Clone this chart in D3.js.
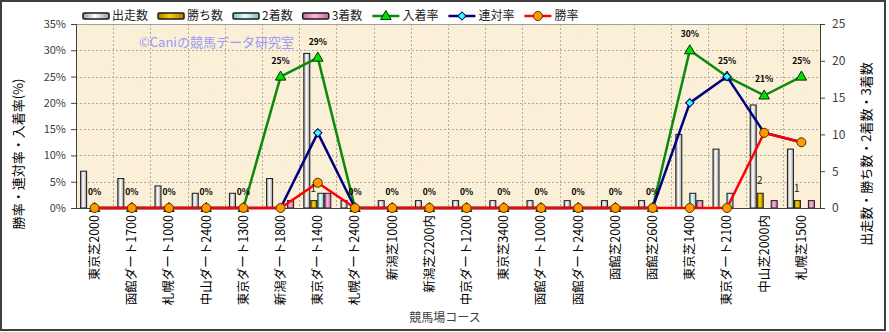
<!DOCTYPE html>
<html><head><meta charset="utf-8">
<script src="https://cdn.jsdelivr.net/npm/d3@7"></script>
<style>
body{margin:0;background:#fff}
text{font-family:"Noto Sans CJK JP","Liberation Sans",sans-serif}
</style>
</head><body>
<svg id="chart" width="889" height="332"></svg>
<script>
// Course list (x axis)
const courses = ["東京芝2000","函館ダート1700","札幌ダート1000","中山ダート2400","東京ダート1300",
  "新潟ダート1800","東京ダート1400","札幌ダート2400","新潟芝1000","新潟芝2200内",
  "中京ダート1200","東京芝3400","函館ダート1000","函館ダート2400","函館芝2000",
  "函館芝2600","東京芝1400","東京ダート2100","中山芝2000内","札幌芝1500"];

// Counts (right axis)
const starts  = [5,4,3,2,2,4,21,1,1,1,1,1,1,1,1,1,10,8,14,8];
const wins    = [0,0,0,0,0,0,1,0,0,0,0,0,0,0,0,0,0,0,2,1];
const seconds = [0,0,0,0,0,0,2,0,0,0,0,0,0,0,0,0,2,2,0,0];
const thirds  = [0,0,0,0,0,1,2,0,0,0,0,0,0,0,0,0,1,0,1,1];

// Rates in % (left axis)
const placeRate    = [0,0,0,0,0,25,28.6,0,0,0,0,0,0,0,0,0,30,25,21.4,25];
const quinellaRate = [0,0,0,0,0,0,14.3,0,0,0,0,0,0,0,0,0,20,25,14.3,12.5];
const winRate      = [0,0,0,0,0,0,4.8,0,0,0,0,0,0,0,0,0,0,0,14.3,12.5];

const leftTicks  = [0,5,10,15,20,25,30,35];
const rightTicks = [0,5,10,15,20,25];

const barSeries = [
  {name:"出走数", values:starts,  edge:"#9a9a9a", mid:"#ffffff"},
  {name:"勝ち数", values:wins,    edge:"#a87800", mid:"#ffd200"},
  {name:"2着数",  values:seconds, edge:"#7fbcbc", mid:"#e4ffff"},
  {name:"3着数",  values:thirds,  edge:"#c86a9a", mid:"#ffb4da"}
];
const lineSeries = [
  {name:"入着率", values:placeRate,    color:"#0a8a0a", marker:"triangle", fill:"#00e000", stroke:"#003300"},
  {name:"連対率", values:quinellaRate, color:"#000080", marker:"diamond",  fill:"#33ffff", stroke:"#000060"},
  {name:"勝率",   values:winRate,      color:"#ff0000", marker:"circle",   fill:"#ff9900", stroke:"#5a3000"}
];

const svg = d3.select("#chart");
const P = {l:76, r:820, t:24, b:208};

const x = d3.scaleBand().domain(courses).range([P.l, P.r]);
const xb = d3.scaleBand().domain(barSeries.map(s=>s.name)).range([0, x.bandwidth()]).paddingOuter(0.66);
const yL = d3.scaleLinear().domain([0,35]).range([P.b, P.t]);
const yR = d3.scaleLinear().domain([0,25]).range([P.b, P.t]);
const cx = c => x(c) + x.bandwidth()/2;

// gradients for bars
const defs = svg.append("defs");
barSeries.forEach((s,i)=>{
  const g = defs.append("linearGradient").attr("id","g"+i).attr("x1","0").attr("x2","1").attr("y1","0").attr("y2","0");
  g.append("stop").attr("offset","0").attr("stop-color",s.edge);
  g.append("stop").attr("offset","0.45").attr("stop-color",s.mid);
  g.append("stop").attr("offset","1").attr("stop-color",s.edge);
});
const tex = defs.append("filter").attr("id","paper").attr("x","0").attr("y","0").attr("width","1").attr("height","1");
tex.append("feTurbulence").attr("type","fractalNoise").attr("baseFrequency","0.025").attr("numOctaves","3").attr("seed","4");
tex.append("feColorMatrix").attr("values","0 0 0 0 0.93  0 0 0 0 0.85  0 0 0 0 0.70  0 0 0 0.35 0");
tex.append("feComposite").attr("in2","SourceGraphic").attr("operator","in");

// chart frame
svg.append("rect").attr("x",1).attr("y",1).attr("width",884).attr("height",329)
  .attr("fill","#fff").attr("stroke","#404040").attr("stroke-width",2);

// plot background
svg.append("rect").attr("x",P.l).attr("y",P.t).attr("width",P.r-P.l).attr("height",P.b-P.t).attr("fill","#fbefd6");
svg.append("rect").attr("x",P.l).attr("y",P.t).attr("width",P.r-P.l).attr("height",P.b-P.t).attr("fill","#fbefd6").attr("filter","url(#paper)");

// grid
const grid = svg.append("g").attr("stroke","#b0aaa0").attr("stroke-dasharray","2,2").attr("stroke-width",1);
leftTicks.filter(t=>t>0 && t<35).forEach(t=>{
  grid.append("line").attr("x1",P.l).attr("x2",P.r).attr("y1",Math.round(yL(t))+0.5).attr("y2",Math.round(yL(t))+0.5);
});
courses.slice(1).forEach(c=>{
  const xx = Math.round(x(c))+0.5;
  grid.append("line").attr("x1",xx).attr("x2",xx).attr("y1",P.t).attr("y2",P.b);
});
svg.append("line").attr("x1",P.l).attr("x2",P.r).attr("y1",P.t+0.5).attr("y2",P.t+0.5).attr("stroke","#a0a0a0");

// watermark
svg.append("text").attr("x",139).attr("y",47).attr("fill","#9a9af5").attr("font-size",13).text("©Caniの競馬データ研究室");

// bars
barSeries.forEach((s,i)=>{
  svg.append("g").selectAll("rect").data(courses.map((c,j)=>({c,v:s.values[j]})).filter(d=>d.v>0))
    .join("rect")
    .attr("x",d=>x(d.c)+xb(s.name))
    .attr("y",d=>yR(d.v))
    .attr("width",xb.bandwidth()-1)
    .attr("height",d=>yR(0)-yR(d.v))
    .attr("fill","url(#g"+i+")")
    .attr("stroke","#1a1a1a").attr("stroke-width",1);
});

// axes
const axL = svg.append("g").attr("transform",`translate(${P.l},0)`)
  .call(d3.axisLeft(yL).tickValues(leftTicks).tickFormat(d=>d+"%").tickSize(5).tickPadding(5));
const axR = svg.append("g").attr("transform",`translate(${P.r},0)`)
  .call(d3.axisRight(yR).tickValues(rightTicks).tickSize(5).tickPadding(7));
[axL,axR].forEach(a=>{
  a.selectAll("path,line").attr("stroke","#404040");
  a.selectAll("text").attr("fill","#404040").attr("font-family","Liberation Sans, sans-serif");
});
axL.selectAll("text").attr("font-size",11);
axR.selectAll("text").attr("font-size",12);
svg.append("line").attr("x1",P.l).attr("x2",P.r).attr("y1",P.b+0.5).attr("y2",P.b+0.5).attr("stroke","#404040");

// x labels
svg.append("g").selectAll("text").data(courses).join("text")
  .attr("transform",c=>`translate(${cx(c)},215) rotate(-90)`)
  .attr("text-anchor","end").attr("dy","0.35em")
  .attr("font-size",12.5).attr("fill","#000").text(c=>c);

// lines + markers
function marker(sel, s){
  if(s.marker==="circle"){
    sel.append("circle").attr("r",4.5);
  } else if(s.marker==="triangle"){
    sel.append("path").attr("d",d3.symbol(d3.symbolTriangle,48)()).attr("transform","translate(0,0.5)");
  } else {
    sel.append("path").attr("d",d3.symbol(d3.symbolSquare,34)()).attr("transform","rotate(45)");
  }
  sel.selectAll("*").attr("fill",s.fill).attr("stroke",s.stroke).attr("stroke-width",1);
}
lineSeries.forEach(s=>{
  const pts = courses.map((c,j)=>[cx(c), yL(s.values[j])]);
  svg.append("path").attr("d",d3.line()(pts)).attr("fill","none")
    .attr("stroke",s.color).attr("stroke-width",2.5).attr("stroke-linejoin","round");
  pts.forEach(p=>{
    const g = svg.append("g").attr("transform",`translate(${p[0]},${p[1]})`);
    marker(g,s);
  });
});

// data labels: 入着率
svg.append("g").selectAll("text").data(courses).join("text")
  .attr("x",c=>cx(c)).attr("y",(c,j)=>yL(placeRate[j])-13)
  .attr("text-anchor","middle").attr("font-size",8.5).attr("font-weight","bold")
  .attr("font-family","DejaVu Sans, sans-serif").attr("fill","#000")
  .text((c,j)=>d3.format(".0f")(placeRate[j])+"%");

// data labels: 勝ち数
svg.append("g").selectAll("text").data(courses.map((c,j)=>({c,v:wins[j]})).filter(d=>d.v>0)).join("text")
  .attr("x",d=>x(d.c)+xb("勝ち数")+xb.bandwidth()/2-1)
  .attr("y",d=>yR(d.v)-9)
  .attr("text-anchor","middle").attr("font-size",10)
  .attr("font-family","Liberation Sans, sans-serif").attr("fill","#222")
  .text(d=>d.v);

// axis titles
svg.append("text").attr("transform","translate(18,154) rotate(-90)").attr("text-anchor","middle")
  .attr("dy","0.35em").attr("font-size",13).attr("fill","#000").text("勝率・連対率・入着率(%)");
svg.append("text").attr("transform","translate(866,154) rotate(-90)").attr("text-anchor","middle")
  .attr("dy","0.35em").attr("font-size",13).attr("fill","#000").text("出走数・勝ち数・2着数・3着数");
svg.append("text").attr("x",445).attr("y",322).attr("text-anchor","middle")
  .attr("font-size",12).attr("fill","#404040").text("競馬場コース");

// legend
const leg = svg.append("g");
let lx = 83;
const ly = 16;
barSeries.forEach((s,i)=>{
  leg.append("rect").attr("x",lx).attr("y",ly-3).attr("width",26).attr("height",6).attr("rx",1)
    .attr("fill","url(#g"+i+")").attr("stroke","#1a1a1a").attr("stroke-width",1.5);
  const t = leg.append("text").attr("x",lx+29).attr("y",ly).attr("dy","0.36em").attr("font-size",12).attr("fill","#222").text(s.name);
  lx += 29 + t.node().getComputedTextLength() + 10;
});
lineSeries.forEach(s=>{
  leg.append("line").attr("x1",lx).attr("x2",lx+27).attr("y1",ly).attr("y2",ly).attr("stroke",s.color).attr("stroke-width",2.5);
  const g = leg.append("g").attr("transform",`translate(${lx+13.5},${ly})`);
  marker(g,s);
  const t = leg.append("text").attr("x",lx+30).attr("y",ly).attr("dy","0.36em").attr("font-size",12).attr("fill","#222").text(s.name);
  lx += 30 + t.node().getComputedTextLength() + 10;
});
</script>
</body></html>
